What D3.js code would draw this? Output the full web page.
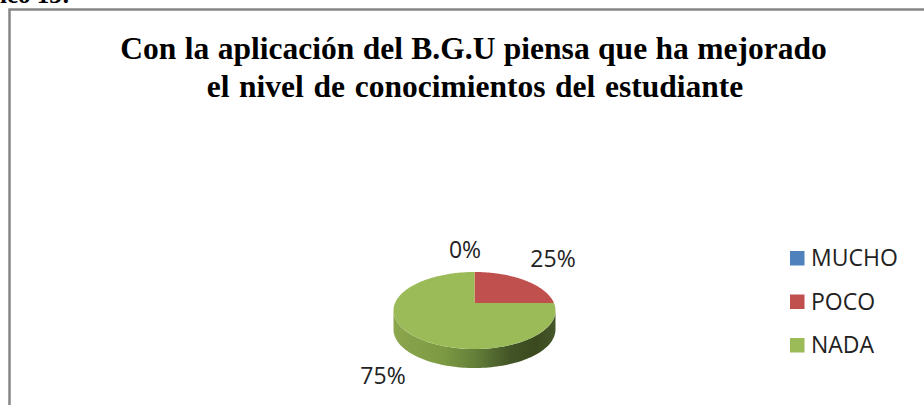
<!DOCTYPE html>
<html><head><meta charset="utf-8">
<script src="https://cdn.jsdelivr.net/npm/d3@7"></script>
<style>html,body{margin:0;padding:0;background:#fff;overflow:hidden}</style></head>
<body><svg id="c" width="924" height="405" style="display:block"></svg>
<script>
const categories = ["MUCHO","POCO","NADA"];
const values = [0,25,75];
const labels = ["0%","25%","75%"];
const colors = ["#4f81bd","#c0504d","#9bbb59"];
const titleLines = ["Con la aplicación del B.G.U piensa que ha mejorado","el nivel de conocimientos del estudiante"];

const svg = d3.select("#c");
svg.append("text").text("ico 13:").attr("x",0).attr("y",3)
  .attr("font-family","Liberation Serif").attr("font-weight","bold").attr("font-size",25).attr("fill","#000");
svg.append("rect").attr("x",9.5).attr("y",9.5).attr("width",940).attr("height",420)
  .attr("fill","#fff").attr("stroke","#868686").attr("stroke-width",2.5);

svg.selectAll("text.t").data(titleLines).join("text").attr("class","t")
  .text(d=>d).attr("x",(d,i)=>i?475:473.5).attr("y",(d,i)=>59+i*37.5).attr("text-anchor","middle")
  .attr("font-family","Liberation Serif").attr("font-weight","bold").attr("font-size",31.5).attr("word-spacing",(d,i)=>i?1.8:0.6).attr("fill","#000");

const ex=474.5, ey=310.5, rx=81, ry=38.5, apexY=303, depth=19;
const pie = d3.pie().sort(null).value(d=>d)(values);
function pt(theta){
  const dx=Math.sin(theta)*rx, dy=-Math.cos(theta)*ry;
  const oy=(apexY-ey);
  const a=dx*dx/(rx*rx)+dy*dy/(ry*ry), b=2*(oy*dy)/(ry*ry), c=oy*oy/(ry*ry)-1;
  const t=(-b+Math.sqrt(b*b-4*a*c))/(2*a);
  return [ex+t*dx, ey+oy+t*dy];
}
const line=d3.line();
const defs=svg.append("defs");
const g=defs.append("linearGradient").attr("id","side").attr("gradientUnits","userSpaceOnUse")
  .attr("x1",ex-rx).attr("x2",ex+rx).attr("y1",0).attr("y2",0);
[[0,"#8ba64d"],[0.3,"#7d9a43"],[0.5,"#64803a"],[0.72,"#435426"],[0.88,"#3a4a1e"],[1,"#46572a"]]
  .forEach(s=>g.append("stop").attr("offset",s[0]).attr("stop-color",s[1]));
const rim=d3.range(0,181,2).map(a=>{const p=a*Math.PI/180;return [ex+rx*Math.cos(p),ey+ry*Math.sin(p)];});
const wall=rim.concat(rim.slice().reverse().map(p=>[p[0],p[1]+depth]));
svg.append("path").attr("d",line(wall)+"Z").attr("fill","url(#side)");
svg.selectAll("path.s").data(pie).join("path").attr("class","s")
  .attr("d",d=>{
    const n=Math.max(2,Math.ceil((d.endAngle-d.startAngle)/0.02));
    const ps=d3.range(n+1).map(i=>pt(d.startAngle+(d.endAngle-d.startAngle)*i/n));
    return line([[ex,apexY],...ps])+"Z";
  }).attr("fill",(d,i)=>colors[i]);

const labelPos=[[465,258],[553,267],[383,384]];
svg.selectAll("text.l").data(labels).join("text").attr("class","l")
  .text(d=>d).attr("x",(d,i)=>labelPos[i][0]).attr("y",(d,i)=>labelPos[i][1]).attr("text-anchor","middle")
  .attr("font-family","Open Sans").attr("font-size",23).attr("fill","#222");

const ly=d3.scalePoint().domain(categories).range([251,338]);
const lg=svg.selectAll("g.lg").data(categories).join("g").attr("class","lg").attr("transform",d=>`translate(790,${ly(d)})`);
lg.append("rect").attr("width",14.5).attr("height",14.5).attr("fill",(d,i)=>colors[i]);
lg.append("text").text(d=>d).attr("x",21).attr("y",15).attr("font-family","Open Sans").attr("font-size",23).attr("fill","#222");
</script></body></html>
